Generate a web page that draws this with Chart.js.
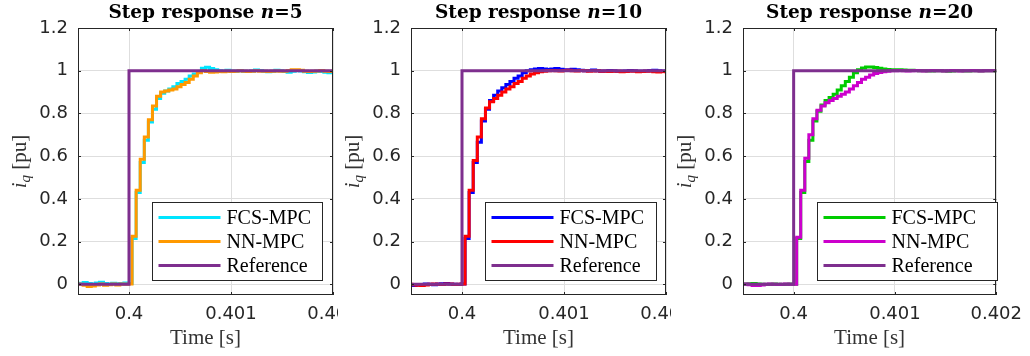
<!DOCTYPE html>
<html>
<head>
<meta charset="utf-8">
<title>Step response</title>
<script src="https://cdn.jsdelivr.net/npm/chart.js@4.4.1/dist/chart.umd.min.js"></script>
<style>
  html, body { margin: 0; padding: 0; background: #fff; }
  body { width: 1030px; height: 356px; position: relative; overflow: hidden; }
  .panel { position: absolute; top: 0; height: 356px; overflow: hidden; background: #fff; }
  .panel canvas { position: absolute; left: 0; top: 0; }
</style>
</head>
<body>
<div class="panel" style="left:0;width:338px"><canvas id="c5" width="380" height="356"></canvas></div>
<div class="panel" style="left:338px;width:333px"><canvas id="c10" width="380" height="356"></canvas></div>
<div class="panel" style="left:671px;width:359px"><canvas id="c20" width="360" height="356"></canvas></div>
<script>
// sample instants, microseconds after t = 0.4 s
const timeUs = [
  -530, -490, -450, -410, -370, -330, -290, -250, -210, -170,
  -130, -90, -50, -10, 30, 70, 110, 150, 190, 230,
  270, 310, 350, 390, 430, 470, 510, 550, 590, 630,
  670, 710, 750, 790, 830, 870, 910, 950, 990, 1030,
  1070, 1110, 1150, 1190, 1230, 1270, 1310, 1350, 1390, 1430,
  1470, 1510, 1550, 1590, 1630, 1670, 1710, 1750, 1790, 1830,
  1870, 1910, 1950, 1990, 2030
];

const horizons = [5, 10, 20];
const seriesNames = ['FCS-MPC', 'NN-MPC', 'Reference'];
const xTickVals = [0.4, 0.401, 0.402];
const xTickLabels = ['0.4', '0.401', '0.402'];
const yTickVals = [0, 0.2, 0.4, 0.6, 0.8, 1, 1.2];
const yTickLabels = ['0', '0.2', '0.4', '0.6', '0.8', '1', '1.2'];

const refTime = [0.399, 0.4, 0.403];
const refValues = [0, 1, 1];

// n = 5
const fcs5 = [
  0.005, 0.003, 0.008, 0.004, 0.002, 0.006, 0.010, 0.004, 0.002, 0.005,
  0.003, 0.004, 0.006, 0.004, 0.215, 0.43, 0.57, 0.675, 0.76, 0.82,
  0.87, 0.895, 0.905, 0.915, 0.925, 0.94, 0.95, 0.96, 0.975, 0.985,
  0.995, 1.012, 1.016, 1.010, 1.004, 1.000, 0.998, 1.002, 0.999, 0.997,
  1.001, 0.998, 0.996, 0.999, 1.003, 1.001, 0.997, 0.995, 0.998, 1.002,
  1.000, 0.996, 0.993, 0.997, 1.001, 0.999, 0.995, 0.992, 0.994, 0.998,
  0.996, 0.993, 0.991, 0.990, 0.992
];
const nn5 = [
  0.002, 0.000, -0.004, -0.010, -0.008, -0.003, 0.002, -0.004, -0.002, 0.001,
  -0.003, 0.002, 0.000, 0.001, 0.225, 0.44, 0.585, 0.69, 0.77, 0.835,
  0.88, 0.90, 0.905, 0.91, 0.915, 0.925, 0.935, 0.945, 0.96, 0.975,
  0.99, 1.000, 0.996, 0.993, 0.994, 0.996, 0.995, 0.997, 0.996, 0.998,
  1.000, 0.997, 0.996, 0.998, 1.000, 0.998, 0.997, 0.996, 0.998, 0.999,
  0.997, 0.998, 1.001, 1.004, 1.005, 1.002, 0.998, 0.996, 0.997, 0.999,
  1.001, 0.998, 0.996, 0.997, 0.998
];

// n = 10
const fcs10 = [
  -0.004, -0.006, -0.003, -0.001, 0.001, 0.000, -0.002, 0.001, 0.003, 0.004,
  0.002, 0.000, -0.001, 0.001, 0.215, 0.43, 0.57, 0.665, 0.765, 0.82,
  0.86, 0.885, 0.905, 0.92, 0.935, 0.95, 0.965, 0.975, 0.99, 1.000,
  1.005, 1.008, 1.010, 1.008, 1.006, 1.008, 1.010, 1.007, 1.004, 1.005,
  1.007, 1.005, 1.002, 1.000, 1.001, 1.003, 1.000, 0.998, 0.999, 1.001,
  1.000, 0.998, 0.997, 0.999, 1.001, 1.000, 0.998, 0.997, 0.999, 1.001,
  1.002, 1.000, 0.998, 0.999, 1.000
];
const nn10 = [
  0.000, -0.002, -0.004, -0.005, -0.003, 0.000, 0.002, 0.000, -0.001, 0.002,
  0.001, -0.001, 0.000, 0.001, 0.225, 0.44, 0.58, 0.69, 0.775, 0.825,
  0.855, 0.87, 0.885, 0.90, 0.915, 0.925, 0.94, 0.95, 0.965, 0.975,
  0.985, 0.99, 0.995, 0.998, 1.000, 1.001, 1.000, 0.999, 1.001, 1.002,
  1.000, 0.999, 1.001, 1.000, 0.998, 0.999, 1.000, 0.998, 0.997, 0.996,
  0.998, 0.997, 0.995, 0.996, 0.998, 0.997, 0.995, 0.996, 0.998, 0.997,
  0.995, 0.994, 0.996, 0.995, 0.996
];

// n = 20
const fcs20 = [
  0.000, 0.001, 0.003, 0.004, 0.002, 0.000, -0.001, 0.000, 0.001, 0.000,
  -0.001, 0.000, 0.001, 0.000, 0.215, 0.43, 0.575, 0.675, 0.765, 0.81,
  0.84, 0.86, 0.875, 0.89, 0.91, 0.93, 0.95, 0.97, 0.99, 1.005,
  1.013, 1.018, 1.018, 1.015, 1.011, 1.008, 1.006, 1.005, 1.005, 1.004,
  1.003, 1.002, 1.002, 1.001, 1.000, 1.000, 0.999, 0.999, 1.000, 1.000,
  0.999, 0.998, 0.999, 1.000, 1.000, 0.999, 0.999, 1.000, 1.000, 0.999,
  1.000, 1.000, 1.000, 0.999, 1.000
];
const nn20 = [
  0.000, 0.001, -0.002, -0.005, -0.006, -0.003, 0.000, 0.001, 0.000, -0.001,
  0.000, 0.001, 0.000, 0.000, 0.22, 0.44, 0.59, 0.70, 0.775, 0.815,
  0.835, 0.85, 0.86, 0.87, 0.88, 0.89, 0.90, 0.915, 0.93, 0.945,
  0.96, 0.97, 0.98, 0.987, 0.992, 0.995, 0.998, 1.000, 1.000, 1.001,
  1.000, 0.999, 1.000, 1.001, 1.000, 0.999, 1.000, 1.001, 1.000, 1.000,
  0.999, 1.000, 1.001, 1.000, 0.999, 1.000, 1.000, 1.001, 1.000, 0.999,
  1.000, 1.000, 1.000, 1.000, 1.000
];

const times = timeUs.map(u => 0.4 + u / 1e6);

Chart.defaults.font.family = 'DejaVu Sans';
Chart.defaults.color = '#262626';

const AXIS_COLOR = '#262626';
const PLOT_TOP = 28;
const PLOT_BOTTOM = 295;

// MATLAB look: boxed axes, inward ticks, legend box, title and y label
const matlabAxes = {
  id: 'matlabAxes',
  afterDraw(chart, args, opts) {
    const ctx = chart.ctx;
    const a = chart.chartArea;
    const xs = chart.scales.x, ys = chart.scales.y;
    ctx.save();

    // inward tick marks
    ctx.strokeStyle = AXIS_COLOR;
    ctx.lineWidth = 1;
    ctx.beginPath();
    xTickVals.forEach(v => {
      const px = Math.round(xs.getPixelForValue(v)) + 0.5;
      ctx.moveTo(px, a.bottom); ctx.lineTo(px, a.bottom - 3);
      ctx.moveTo(px, a.top); ctx.lineTo(px, a.top + 3);
    });
    yTickVals.forEach(v => {
      const py = Math.round(ys.getPixelForValue(v)) + 0.5;
      ctx.moveTo(a.left, py); ctx.lineTo(a.left + 3, py);
      ctx.moveTo(a.right, py); ctx.lineTo(a.right - 3, py);
    });
    ctx.stroke();
    ctx.strokeRect(Math.round(a.left) + 0.5, Math.round(a.top) + 0.5,
      Math.round(a.right - a.left) - 1, Math.round(a.bottom - a.top) - 1);

    // legend
    const bx = Math.round(a.left + 74) + 0.5, by = 202.5, bw = opts.legendWidth, bh = 78;
    ctx.fillStyle = '#fff';
    ctx.fillRect(bx, by, bw, bh);
    ctx.strokeStyle = AXIS_COLOR;
    ctx.strokeRect(bx, by, bw, bh);
    ctx.font = '20px "Liberation Serif"';
    ctx.textBaseline = 'middle';
    ctx.textAlign = 'left';
    chart.data.datasets.forEach((ds, i) => {
      const ry = by + 15 + i * 24;
      ctx.strokeStyle = ds.borderColor;
      ctx.lineWidth = 3;
      ctx.beginPath();
      ctx.moveTo(bx + 6, ry); ctx.lineTo(bx + 68, ry);
      ctx.stroke();
      ctx.fillStyle = '#000';
      ctx.fillText(ds.label, bx + 74, ry + 1);
    });

    // title
    const parts = [
      ['Step response ', 'bold 18.5px "DejaVu Serif"'],
      ['n', 'italic bold 18.5px "DejaVu Serif"'],
      ['=' + opts.n, 'bold 18.5px "DejaVu Serif"']
    ];
    let tw = 0;
    parts.forEach(p => { ctx.font = p[1]; tw += ctx.measureText(p[0]).width; });
    let tx = (a.left + a.right) / 2 - tw / 2;
    ctx.fillStyle = '#000';
    ctx.textBaseline = 'alphabetic';
    parts.forEach(p => { ctx.font = p[1]; ctx.fillText(p[0], tx, 18); tx += ctx.measureText(p[0]).width; });

    // y label: i_q [pu]
    ctx.translate(a.left - 58, (a.top + a.bottom) / 2);
    ctx.rotate(-Math.PI / 2);
    ctx.fillStyle = '#333';
    const yl = [
      ['i', 'italic 21px "Liberation Serif"', 0],
      ['q', 'italic 15px "Liberation Serif"', 4],
      [' [pu]', '21px "Liberation Serif"', 0]
    ];
    let lw = 0;
    yl.forEach(p => { ctx.font = p[1]; lw += ctx.measureText(p[0]).width; });
    let lx = -lw / 2;
    yl.forEach(p => { ctx.font = p[1]; ctx.fillText(p[0], lx, 6 + p[2]); lx += ctx.measureText(p[0]).width; });

    ctx.restore();
  }
};

function lineSet(label, xs, ys, color, order) {
  return {
    label: label,
    data: xs.map((t, i) => ({ x: t, y: ys[i] })),
    borderColor: color,
    backgroundColor: color,
    borderWidth: 3,
    pointRadius: 0,
    stepped: true,
    fill: false,
    clip: 0,
    order: order
  };
}

function makePanel(id, n, fcs, nn, colors, plotLeft, plotRight, legendWidth) {
  const canvas = document.getElementById(id);
  return new Chart(canvas, {
    type: 'line',
    data: {
      datasets: [
        lineSet(seriesNames[0], times, fcs, colors[0], 2),
        lineSet(seriesNames[1], times, nn, colors[1], 1),
        lineSet(seriesNames[2], refTime, refValues, '#7E2F8E', 0)
      ]
    },
    options: {
      responsive: false,
      animation: false,
      devicePixelRatio: 1,
      layout: {
        padding: { top: PLOT_TOP, left: 0, right: canvas.width - plotRight, bottom: 0 }
      },
      plugins: {
        legend: { display: false },
        title: { display: false },
        tooltip: { enabled: false },
        matlabAxes: { n: n, legendWidth: legendWidth }
      },
      scales: {
        x: {
          type: 'linear',
          min: 0.3995,
          max: 0.402,
          afterBuildTicks: s => { s.ticks = xTickVals.map(v => ({ value: v })); },
          afterFit: s => { s.height = canvas.height - PLOT_BOTTOM; },
          ticks: {
            font: { size: 18 },
            color: AXIS_COLOR,
            padding: 9,
            maxRotation: 0,
            callback: v => xTickLabels[xTickVals.findIndex(t => Math.abs(t - v) < 1e-7)]
          },
          grid: { color: '#dedede', drawTicks: false },
          border: { display: false },
          title: {
            display: true,
            text: 'Time [s]',
            font: { family: 'Liberation Serif', size: 21 },
            color: '#333',
            padding: { top: 0, bottom: 5 }
          }
        },
        y: {
          min: -0.05,
          max: 1.2,
          afterBuildTicks: s => { s.ticks = yTickVals.map(v => ({ value: v })); },
          afterFit: s => { s.width = plotLeft; },
          ticks: {
            font: { size: 18 },
            color: AXIS_COLOR,
            padding: 10,
            callback: v => yTickLabels[yTickVals.findIndex(t => Math.abs(t - v) < 1e-7)]
          },
          grid: { color: '#dedede', drawTicks: false },
          border: { display: false }
        }
      }
    },
    plugins: [matlabAxes]
  });
}

makePanel('c5', horizons[0], fcs5, nn5, ['#00E5FF', '#FF9900'], 78, 333, 170);
makePanel('c10', horizons[1], fcs10, nn10, ['#0000FF', '#FF0000'], 73, 328, 171);
makePanel('c20', horizons[2], fcs20, nn20, ['#00CC00', '#CC00CC'], 72, 327, 180);
</script>
</body>
</html>
